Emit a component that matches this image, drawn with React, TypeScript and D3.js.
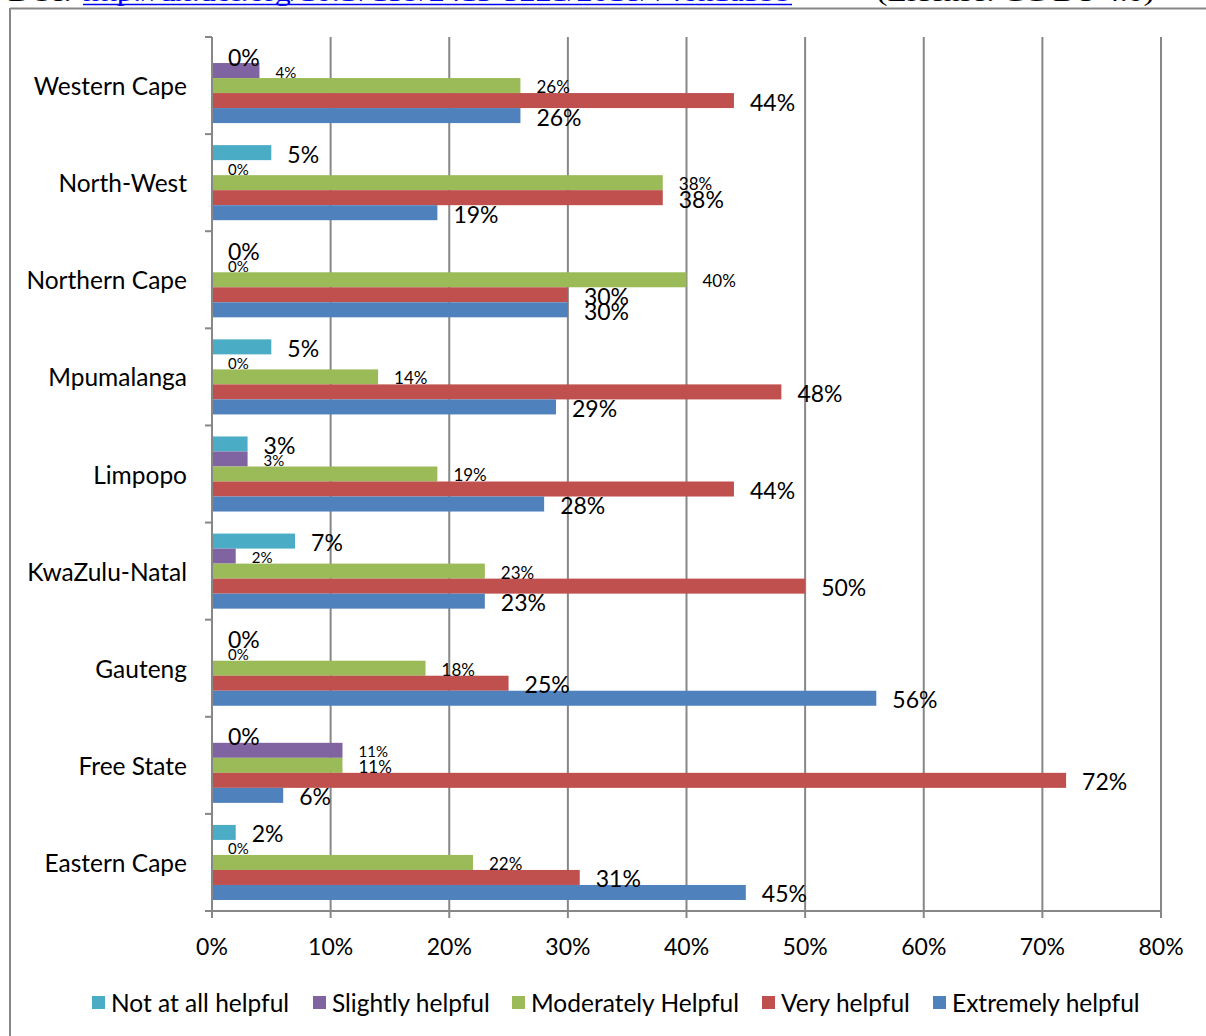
import React from "react";
import * as d3 from "d3";

// provinces, top to bottom
const provinces = [
    "Western Cape",
    "North-West",
    "Northern Cape",
    "Mpumalanga",
    "Limpopo",
    "KwaZulu-Natal",
    "Gauteng",
    "Free State",
    "Eastern Cape",
];

const seriesNames = [
    "Not at all helpful",
    "Slightly helpful",
    "Moderately Helpful",
    "Very helpful",
    "Extremely helpful",
];

// values in %, same order as provinces
const notAtAll = [0, 5, 0, 5, 3, 7, 0, 0, 2];
const slightly = [4, 0, 0, 0, 3, 2, 0, 11, 0];
const moderately = [26, 38, 40, 14, 19, 23, 18, 11, 22];
const very = [44, 38, 30, 48, 44, 50, 25, 72, 31];
const extremely = [26, 19, 30, 29, 28, 23, 56, 6, 45];

const xTicks = [0, 10, 20, 30, 40, 50, 60, 70, 80];

const seriesValues = [notAtAll, slightly, moderately, very, extremely];
const colors = ["#4BACC6", "#8064A2", "#9BBB59", "#C0504D", "#4F81BD"];
const labelSizes = [23, 15, 17, 23, 23];
const legendX = [92, 313, 512, 762, 933];

const W = 1206;
const H = 1036;
const plot = { left: 212, right: 1161, top: 37, bottom: 911 };
const gridColor = "#878787";
const font = "Lato, 'Open Sans', sans-serif";

export default function App() {
    const x = d3.scaleLinear().domain([0, 80]).range([plot.left, plot.right]);
    const y = d3
        .scaleBand<string>()
        .domain(provinces)
        .range([plot.top, plot.bottom])
        .paddingInner(0.227)
        .paddingOuter(0.1135);
    const step = y.step();
    const inner = d3
        .scaleBand<string>()
        .domain(seriesNames)
        .range([0, y.bandwidth()]);

    // band boundaries for the category ticks
    const bounds = d3.range(provinces.length + 1).map(i => plot.top + i * step);

    return (
        <div style={{ position: "absolute", left: 0, top: 0 }}>
            <svg width={W} height={H} style={{ display: "block", background: "#fff" }}>
                {/* cut-off citation line above the figure */}
                <g fontFamily="'Liberation Serif', 'Times New Roman', serif" fontSize={24}>
                    <text x={8} y={1} fill="#000" textLength={64} lengthAdjust="spacingAndGlyphs">DOI:</text>
                    <text x={83} y={1} fill="#0000EE" textLength={709} lengthAdjust="spacingAndGlyphs">
                        http://dx.doi.org/10.17159/2413-3221/2018/v46n1a399
                    </text>
                    <line x1={83} x2={792} y1={4.5} y2={4.5} stroke="#0000EE" strokeWidth={1.5} />
                    <text x={877} y={1} fill="#000" textLength={277} lengthAdjust="spacingAndGlyphs">
                        (License: CC BY 4.0)
                    </text>
                </g>

                {/* frame */}
                <line x1={10} x2={W} y1={8.5} y2={8.5} stroke={gridColor} strokeWidth={2} />
                <line x1={10} x2={10} y1={8} y2={H} stroke={gridColor} strokeWidth={2} />

                {/* vertical gridlines */}
                {xTicks.slice(1).map(t => (
                    <line key={"g" + t} x1={x(t)} x2={x(t)} y1={plot.top} y2={plot.bottom} stroke={gridColor} strokeWidth={2} />
                ))}

                {/* bars */}
                {provinces.map((p, i) => (
                    <g key={p} transform={`translate(0,${y(p)})`}>
                        {seriesNames.map((s, k) => (
                            <rect
                                key={s}
                                x={x(0)}
                                y={inner(s)}
                                width={x(seriesValues[k][i]) - x(0)}
                                height={inner.bandwidth()}
                                fill={colors[k]}
                            />
                        ))}
                    </g>
                ))}

                {/* axes */}
                <line x1={plot.left} x2={plot.left} y1={plot.top} y2={plot.bottom} stroke={gridColor} strokeWidth={2} />
                {bounds.map((b, i) => (
                    <line key={"yt" + i} x1={plot.left - 7} x2={plot.left} y1={b} y2={b} stroke={gridColor} strokeWidth={2} />
                ))}
                <line x1={plot.left - 7} x2={plot.right} y1={plot.bottom} y2={plot.bottom} stroke={gridColor} strokeWidth={2} />
                {xTicks.map(t => (
                    <line key={"xt" + t} x1={x(t)} x2={x(t)} y1={plot.bottom} y2={plot.bottom + 7} stroke={gridColor} strokeWidth={2} />
                ))}

                {/* value labels */}
                {provinces.map((p, i) => (
                    <g key={"l" + p} transform={`translate(0,${y(p)})`} fontFamily={font}>
                        {seriesNames.map((s, k) => (
                            <text
                                key={s}
                                x={x(seriesValues[k][i]) + 16}
                                y={(inner(s) as number) + inner.bandwidth() / 2 + 1}
                                dominantBaseline="central"
                                fontSize={labelSizes[k]}
                                fill="#000"
                            >
                                {seriesValues[k][i]}%
                            </text>
                        ))}
                    </g>
                ))}

                {/* category labels */}
                {provinces.map(p => (
                    <text
                        key={"c" + p}
                        x={187}
                        y={(y(p) as number) + y.bandwidth() / 2}
                        textAnchor="end"
                        dominantBaseline="central"
                        fontFamily={font}
                        fontSize={24.5}
                        fill="#000"
                    >
                        {p}
                    </text>
                ))}

                {/* x tick labels */}
                {xTicks.map(t => (
                    <text
                        key={"xl" + t}
                        x={x(t)}
                        y={946}
                        textAnchor="middle"
                        dominantBaseline="central"
                        fontFamily={font}
                        fontSize={23}
                        fill="#000"
                    >
                        {t}%
                    </text>
                ))}

                {/* legend */}
                {seriesNames.map((s, k) => (
                    <g key={"lg" + s} transform={`translate(${legendX[k]},0)`}>
                        <rect x={0} y={996} width={13} height={13} fill={colors[k]} />
                        <text x={19} y={1002} dominantBaseline="central" fontFamily={font} fontSize={24.5} fill="#000">
                            {s}
                        </text>
                    </g>
                ))}
            </svg>
        </div>
    );
}
